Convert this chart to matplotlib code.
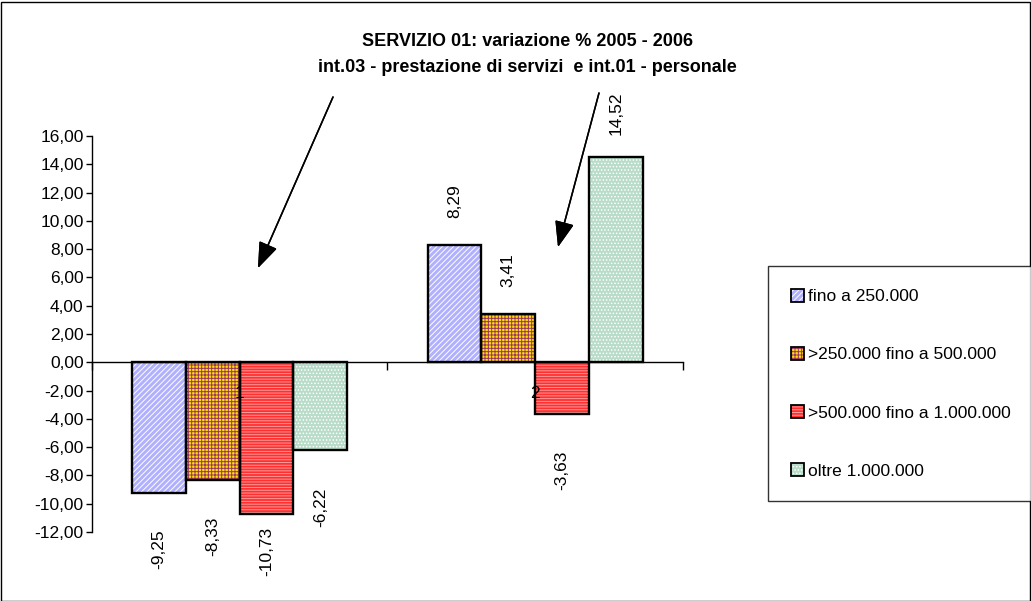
import numpy as np
import matplotlib.pyplot as plt
from matplotlib.ticker import FuncFormatter, MultipleLocator, FixedLocator
from matplotlib.patches import Rectangle, Patch

plt.rcParams['font.family'] = ['Liberation Sans', 'DejaVu Sans']
plt.rcParams['hatch.linewidth'] = 0.7

# data
categories = ['1', '2']
series_names = ['fino a 250.000', '>250.000 fino a 500.000',
                '>500.000 fino a 1.000.000', 'oltre 1.000.000']
fino_250 = [-9.25, 8.29]
fino_500 = [-8.33, 3.41]
fino_1m = [-10.73, -3.63]
oltre_1m = [-6.22, 14.52]
series = [fino_250, fino_500, fino_1m, oltre_1m]

title_1 = 'SERVIZIO 01: variazione % 2005 - 2006'
title_2 = 'int.03 - prestazione di servizi  e int.01 - personale'

# excel-like pattern fills: (face, hatch colour, hatch)
styles = [
    ('#b0b0ff', '#ffffff', '//////'),
    ('#ffe000', '#993366', '+++++'),
    ('#ff3030', '#ff9a9a', '------'),
    ('#b8dcc8', '#ffffff', '.....'),
]

fs = 12.5


def comma(v, pos=None):
    return f'{v:.2f}'.replace('.', ',')


fig = plt.figure(figsize=(10.31, 6.01), dpi=100)
ax = fig.add_axes([0.0892, 0.1148, 0.5732, 0.6589])

x = np.arange(len(categories))
w = 0.182
handles = []
for i, (vals, (face, hc, hatch)) in enumerate(zip(series, styles)):
    pos = x + (i - 1.5) * w
    ax.bar(pos, vals, w, color=face, edgecolor=hc, hatch=hatch,
           linewidth=0, zorder=2)
    ax.bar(pos, vals, w, facecolor='none', edgecolor='black',
           linewidth=1.7, zorder=3)
    for p, v in zip(pos, vals):
        ly = v + 3.1 if v > 0 else max(v - 4.0, -13.4)
        ax.text(p, ly, comma(v), rotation=90, ha='center', va='center',
                fontsize=fs, clip_on=False, zorder=4)
    handles.append((Patch(facecolor=face, edgecolor=hc, hatch=hatch, linewidth=0),
                    Patch(facecolor='none', edgecolor='black', linewidth=1.3)))

ax.set_xlim(-0.5, len(categories) - 0.5)
ax.set_ylim(-12, 16)
ax.yaxis.set_major_locator(MultipleLocator(2))
ax.yaxis.set_major_formatter(FuncFormatter(comma))
ax.tick_params(axis='y', direction='out', length=4, width=1, labelsize=fs, pad=2)

ax.set_xticks(x)
ax.set_xticklabels(categories)
ax.xaxis.set_minor_locator(FixedLocator(np.arange(len(categories) + 1) - 0.5))
ax.tick_params(axis='x', which='major', length=0, labelsize=fs, pad=17)
ax.tick_params(axis='x', which='minor', direction='out', length=6, width=1)
ax.xaxis.set_zorder(6)

for s in ['top', 'right']:
    ax.spines[s].set_visible(False)
ax.spines['bottom'].set_position(('data', 0))
ax.spines['bottom'].set_zorder(5)
ax.spines['left'].set_linewidth(1)
ax.spines['bottom'].set_linewidth(1)
ax.set_facecolor('none')

leg = fig.legend(handles, series_names, loc='upper left',
                 bbox_to_anchor=(768 / 1031, 1 - 266 / 601),
                 bbox_transform=fig.transFigure, borderaxespad=0,
                 frameon=True, fancybox=False, edgecolor='black',
                 fontsize=fs, handlelength=0.8, handleheight=0.8,
                 handletextpad=0.2, labelspacing=2.45, borderpad=1.3)
leg.get_frame().set_linewidth(1)

fig.text(0.512, 1 - 42 / 601, title_1, ha='center', va='center',
         fontweight='bold', fontsize=13)
fig.text(0.512, 1 - 67 / 601, title_2, ha='center', va='center',
         fontweight='bold', fontsize=13)

# pointer arrows from the subtitle to the two groups
arrow = dict(arrowstyle='-|>,head_length=0.8,head_width=0.3', color='black',
             lw=1.1, mutation_scale=20, shrinkA=0, shrinkB=0)
fig.add_artist(plt.annotate('', xy=(258, 601 - 268), xycoords='figure pixels',
                            xytext=(333, 601 - 97), textcoords='figure pixels',
                            arrowprops=arrow))
fig.add_artist(plt.annotate('', xy=(558, 601 - 247), xycoords='figure pixels',
                            xytext=(599, 601 - 93), textcoords='figure pixels',
                            arrowprops=arrow))

fig.patches.append(Rectangle((0.001, 0.0), 0.998, 0.997, transform=fig.transFigure,
                             fill=False, edgecolor='black', linewidth=1))

fig.savefig('out.png', dpi=100)
